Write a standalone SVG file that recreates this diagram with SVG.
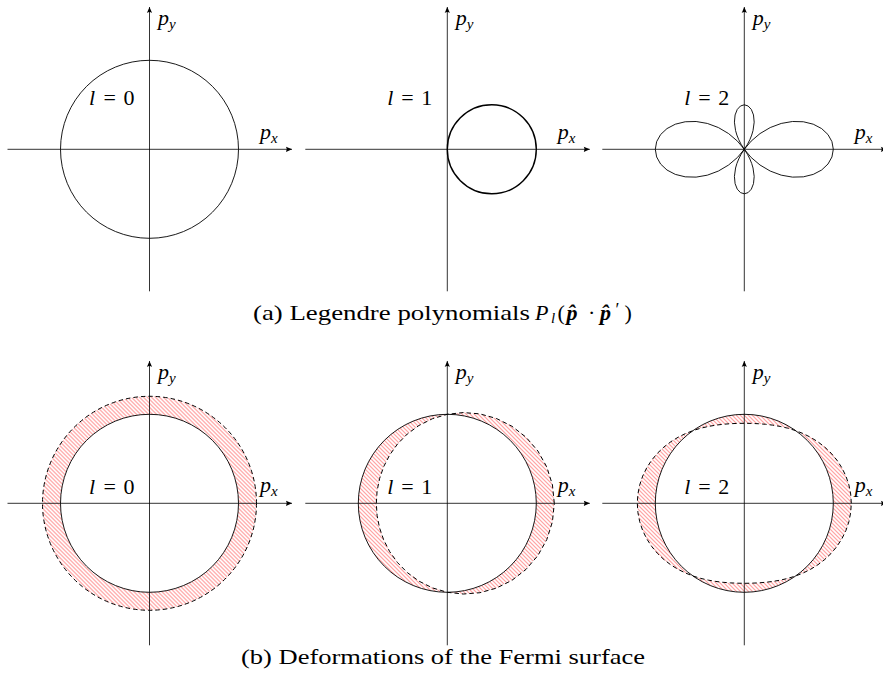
<svg xmlns="http://www.w3.org/2000/svg" width="883" height="682" viewBox="0 0 883 682">
<style>
.ax{stroke:#000;stroke-width:0.8;fill:none;marker-end:url(#arr)}
.cv{stroke:#000;stroke-width:0.9;fill:none;stroke-linejoin:round}
.ds{stroke:#000;stroke-width:1;fill:none;stroke-dasharray:4.5 3;stroke-linejoin:round}
.ht{fill:url(#hatch);fill-rule:evenodd;stroke:none}
.it{font-family:"Liberation Serif",serif;font-style:italic;font-size:22px;fill:#000}
.rm{font-family:"Liberation Serif",serif;font-size:22px;fill:#000}
.sb{font-family:"Liberation Serif",serif;font-style:italic;font-size:15px;fill:#000}
.bi{font-style:italic;font-weight:bold}
.up{font-style:normal;font-weight:normal}
</style>
<defs>
<marker id="arr" viewBox="-7 -4 8 8" refX="0" refY="0" markerWidth="8" markerHeight="8" orient="auto" markerUnits="userSpaceOnUse">
<path d="M0,0 L-6,-2.6 Q-4.2,0 -6,2.6 Z" fill="#000"/>
</marker>
<pattern id="hatch" patternUnits="userSpaceOnUse" width="4" height="4">
<path d="M-1,-1 L5,5 M-1,3 L1,5 M3,-1 L5,1" stroke="#ff4a4a" stroke-width="0.85" fill="none"/>
</pattern>
<g id="axes">
<line class="ax" x1="-142" y1="0" x2="142.5" y2="0"/>
<line class="ax" x1="0" y1="142" x2="0" y2="-142.3"/>
</g>
<path id="bigLobe" class="cv" d="M89,0 L87.65,-7.67 L83.68,-14.76 L77.33,-20.72 L68.96,-25.10 L59.05,-27.54 L48.17,-27.81 L36.93,-25.86 L25.92,-21.75 L15.73,-15.73 L6.85,-8.17 L0,0 L6.85,8.17 L15.73,15.73 L25.92,21.75 L36.93,25.86 L48.17,27.81 L59.05,27.54 L68.96,25.10 L77.33,20.72 L83.68,14.76 L87.65,7.67 Z"/>
<path id="smallLobe" class="cv" d="M0,0 L3.20,-5.03 L5.56,-9.63 L7.41,-14.23 L8.73,-18.72 L9.88,-27.14 L9.20,-34.35 L7.03,-39.86 L3.79,-43.32 L0,-44.5 L-3.79,-43.32 L-7.03,-39.86 L-9.20,-34.35 L-9.88,-27.14 L-8.73,-18.72 L-7.41,-14.23 L-5.56,-9.63 L-3.20,-5.03 Z"/>
</defs>

<g id="panel-a0" transform="translate(149.5,149.3)">
<use href="#axes"/>
<circle class="cv" cx="0" cy="0" r="89"/>
<text class="it" x="-60.5" y="-44">l</text><text class="rm" x="-46" y="-44">=</text><text class="rm" x="-26" y="-44">0</text>
<text class="it" x="8.5" y="-124">p</text><text class="sb" x="19.5" y="-120">y</text>
<text class="it" x="110.5" y="-10">p</text><text class="sb" x="121.5" y="-6">x</text>
</g>

<g id="panel-a1" transform="translate(447.3,149.3)">
<use href="#axes"/>
<circle class="cv" cx="44.5" cy="0" r="44.5" style="stroke-width:1.4"/>
<text class="it" x="-60" y="-44">l</text><text class="rm" x="-46" y="-44">=</text><text class="rm" x="-26" y="-44">1</text>
<text class="it" x="8.5" y="-124">p</text><text class="sb" x="19.5" y="-120">y</text>
<text class="it" x="110.5" y="-10">p</text><text class="sb" x="121.5" y="-6">x</text>
</g>

<g id="panel-a2" transform="translate(744.3,149.3)">
<use href="#axes"/>
<use href="#bigLobe"/>
<use href="#bigLobe" transform="scale(-1,1)"/>
<use href="#smallLobe"/>
<use href="#smallLobe" transform="scale(1,-1)"/>
<text class="it" x="-60" y="-44">l</text><text class="rm" x="-46" y="-44">=</text><text class="rm" x="-26" y="-44">2</text>
<text class="it" x="8.5" y="-124">p</text><text class="sb" x="19.5" y="-120">y</text>
<text class="it" x="110.5" y="-10">p</text><text class="sb" x="121.5" y="-6">x</text>
</g>

<g id="caption-a">
<text class="rm" x="253" y="319.5" textLength="277" lengthAdjust="spacingAndGlyphs">(a) Legendre polynomials</text>
<text class="it" y="319.5"><tspan x="535">P</tspan><tspan x="551" y="323" style="font-size:15px">l</tspan><tspan class="up" x="557.5" y="319.5">(</tspan><tspan class="bi" x="566.5">p&#x302;</tspan><tspan class="up" x="588">·</tspan><tspan class="bi" x="600">p&#x302;</tspan><tspan class="up" x="615.5" y="316" style="font-size:18px">′</tspan><tspan class="up" x="624.5" y="319.5">)</tspan></text>
</g>

<g id="panel-b0" transform="translate(149.5,503.3)">
<path class="ht" d="M107,0 A107,107 0 1,0 -107,0 A107,107 0 1,0 107,0 Z M89,0 A89,89 0 1,0 -89,0 A89,89 0 1,0 89,0 Z"/>
<use href="#axes"/>
<circle class="cv" cx="0" cy="0" r="89"/>
<circle class="ds" cx="0" cy="0" r="107"/>
<text class="it" x="-60.5" y="-9">l</text><text class="rm" x="-46" y="-9">=</text><text class="rm" x="-26" y="-9">0</text>
<text class="it" x="8.5" y="-124">p</text><text class="sb" x="19.5" y="-120">y</text>
<text class="it" x="110.5" y="-11">p</text><text class="sb" x="121.5" y="-7">x</text>
</g>

<g id="panel-b1" transform="translate(447.3,503.3)">
<path class="ht" d="M107,0 L105.11,-18.53 L99.52,-36.22 L90.58,-52.29 L78.74,-66.07 L64.65,-77.04 L49,-84.87 L32.55,-89.42 L16.00,-90.73 L0,-89 L-14.91,-84.57 L-28.33,-77.84 L-40,-69.28 L-49.77,-59.31 L-57.61,-48.34 L-63.57,-36.71 L-67.74,-24.66 L-70.19,-12.38 L-71,0 L-70.19,12.38 L-67.74,24.66 L-63.57,36.71 L-57.61,48.34 L-49.77,59.31 L-40,69.28 L-28.33,77.84 L-14.91,84.57 L0,89 L16.00,90.73 L32.55,89.42 L49,84.87 L64.65,77.04 L78.74,66.07 L90.58,52.29 L99.52,36.22 L105.11,18.53 Z M89,0 A89,89 0 1,0 -89,0 A89,89 0 1,0 89,0 Z"/>
<use href="#axes"/>
<circle class="cv" cx="0" cy="0" r="89"/>
<path class="ds" d="M107,0 L105.11,-18.53 L99.52,-36.22 L90.58,-52.29 L78.74,-66.07 L64.65,-77.04 L49,-84.87 L32.55,-89.42 L16.00,-90.73 L0,-89 L-14.91,-84.57 L-28.33,-77.84 L-40,-69.28 L-49.77,-59.31 L-57.61,-48.34 L-63.57,-36.71 L-67.74,-24.66 L-70.19,-12.38 L-71,0 L-70.19,12.38 L-67.74,24.66 L-63.57,36.71 L-57.61,48.34 L-49.77,59.31 L-40,69.28 L-28.33,77.84 L-14.91,84.57 L0,89 L16.00,90.73 L32.55,89.42 L49,84.87 L64.65,77.04 L78.74,66.07 L90.58,52.29 L99.52,36.22 L105.11,18.53 Z"/>
<text class="it" x="-60" y="-9">l</text><text class="rm" x="-46" y="-9">=</text><text class="rm" x="-26" y="-9">1</text>
<text class="it" x="8.5" y="-124">p</text><text class="sb" x="19.5" y="-120">y</text>
<text class="it" x="110.5" y="-11">p</text><text class="sb" x="121.5" y="-7">x</text>
</g>

<g id="panel-b2" transform="translate(744.3,503.3)">
<path class="ht" d="M107,0 L106.38,-9.31 L104.58,-18.44 L101.61,-27.23 L97.58,-35.51 L92.61,-43.18 L86.82,-50.13 L80.37,-56.28 L73.42,-61.61 L66.11,-66.11 L58.60,-69.83 L50.98,-72.81 L43.38,-75.13 L35.85,-76.87 L28.44,-78.15 L21.17,-79.02 L14.03,-79.58 L6.99,-79.90 L0,-80 L-6.99,-79.90 L-14.03,-79.58 L-21.17,-79.02 L-28.44,-78.15 L-35.85,-76.87 L-43.38,-75.13 L-50.98,-72.81 L-58.60,-69.83 L-66.11,-66.11 L-73.42,-61.61 L-80.37,-56.28 L-86.82,-50.13 L-92.61,-43.18 L-97.58,-35.51 L-101.61,-27.23 L-104.58,-18.44 L-106.38,-9.31 L-107,0 L-106.38,9.31 L-104.58,18.44 L-101.61,27.23 L-97.58,35.51 L-92.61,43.18 L-86.82,50.13 L-80.37,56.28 L-73.42,61.61 L-66.11,66.11 L-58.60,69.83 L-50.98,72.81 L-43.38,75.13 L-35.85,76.87 L-28.44,78.15 L-21.17,79.02 L-14.03,79.58 L-6.99,79.90 L0,80 L6.99,79.90 L14.03,79.58 L21.17,79.02 L28.44,78.15 L35.85,76.87 L43.38,75.13 L50.98,72.81 L58.60,69.83 L66.11,66.11 L73.42,61.61 L80.37,56.28 L86.82,50.13 L92.61,43.18 L97.58,35.51 L101.61,27.23 L104.58,18.44 L106.38,9.31 Z M89,0 A89,89 0 1,0 -89,0 A89,89 0 1,0 89,0 Z"/>
<use href="#axes"/>
<circle class="cv" cx="0" cy="0" r="89"/>
<path class="ds" d="M107,0 L106.38,-9.31 L104.58,-18.44 L101.61,-27.23 L97.58,-35.51 L92.61,-43.18 L86.82,-50.13 L80.37,-56.28 L73.42,-61.61 L66.11,-66.11 L58.60,-69.83 L50.98,-72.81 L43.38,-75.13 L35.85,-76.87 L28.44,-78.15 L21.17,-79.02 L14.03,-79.58 L6.99,-79.90 L0,-80 L-6.99,-79.90 L-14.03,-79.58 L-21.17,-79.02 L-28.44,-78.15 L-35.85,-76.87 L-43.38,-75.13 L-50.98,-72.81 L-58.60,-69.83 L-66.11,-66.11 L-73.42,-61.61 L-80.37,-56.28 L-86.82,-50.13 L-92.61,-43.18 L-97.58,-35.51 L-101.61,-27.23 L-104.58,-18.44 L-106.38,-9.31 L-107,0 L-106.38,9.31 L-104.58,18.44 L-101.61,27.23 L-97.58,35.51 L-92.61,43.18 L-86.82,50.13 L-80.37,56.28 L-73.42,61.61 L-66.11,66.11 L-58.60,69.83 L-50.98,72.81 L-43.38,75.13 L-35.85,76.87 L-28.44,78.15 L-21.17,79.02 L-14.03,79.58 L-6.99,79.90 L0,80 L6.99,79.90 L14.03,79.58 L21.17,79.02 L28.44,78.15 L35.85,76.87 L43.38,75.13 L50.98,72.81 L58.60,69.83 L66.11,66.11 L73.42,61.61 L80.37,56.28 L86.82,50.13 L92.61,43.18 L97.58,35.51 L101.61,27.23 L104.58,18.44 L106.38,9.31 Z"/>
<text class="it" x="-60" y="-9">l</text><text class="rm" x="-46" y="-9">=</text><text class="rm" x="-26" y="-9">2</text>
<text class="it" x="8.5" y="-124">p</text><text class="sb" x="19.5" y="-120">y</text>
<text class="it" x="110.5" y="-11">p</text><text class="sb" x="121.5" y="-7">x</text>
</g>

<g id="caption-b">
<text class="rm" x="241" y="664" textLength="404" lengthAdjust="spacingAndGlyphs">(b) Deformations of the Fermi surface</text>
</g>
</svg>
